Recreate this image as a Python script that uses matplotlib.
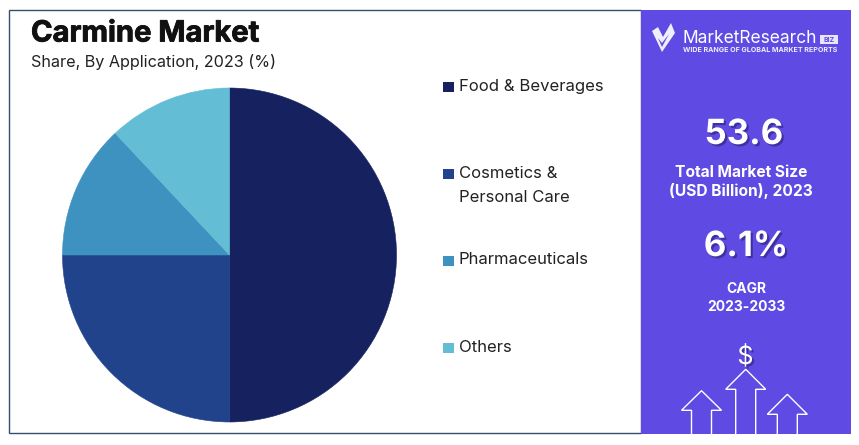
import matplotlib
matplotlib.use('Agg')
import matplotlib.pyplot as plt
import matplotlib.patheffects as pe
from matplotlib.patches import Rectangle, Polygon

# data
categories = ['Food & Beverages', 'Cosmetics &\nPersonal Care', 'Pharmaceuticals', 'Others']
shares = [50, 25, 13, 12]
colors = ['#16215f', '#21438b', '#3d92c0', '#62bdd5']
legend_y = [86, 173, 260, 347]

title = 'Carmine Market'
subtitle = 'Share, By Application, 2023 (%)'
market_size = '53.6'
market_label = 'Total Market Size\n(USD Billion), 2023'
cagr = '6.1%'
cagr_label = 'CAGR\n2023-2033'

W, H = 859, 445
PANEL = '#5f4ae3'
FONT = 'Inter'

plt.rcParams['font.family'] = [FONT, 'DejaVu Sans']

fig = plt.figure(figsize=(W / 100, H / 100), dpi=100)

# background axes in pixel coordinates, y going down
bg = fig.add_axes([0, 0, 1, 1])
bg.set_xlim(0, W)
bg.set_ylim(H, 0)
bg.axis('off')

bg.add_patch(Rectangle((8.5, 9.5), 632, 423.5, fc='white', ec='#34506e', lw=1))
bg.add_patch(Rectangle((641, 10), 210, 423.5, fc=PANEL, ec='none'))

# pie
cx, cy, r = 229.5, 255, 167
ax = fig.add_axes([(cx - r) / W, 1 - (cy + r) / H, 2 * r / W, 2 * r / H])
wedges, _ = ax.pie(shares, colors=colors, startangle=90, counterclock=False, radius=1)
# close the thin seams between slices
for w, col in zip(wedges, colors):
    w.set_edgecolor(col)
    w.set_linewidth(0.4)
ax.set_xlim(-1, 1)
ax.set_ylim(-1, 1)

# top layer for text
top = fig.add_axes([0, 0, 1, 1])
top.set_xlim(0, W)
top.set_ylim(H, 0)
top.axis('off')
top.patch.set_alpha(0)

top.text(31, 34, title, fontsize=21, fontweight='bold', color='#111111', va='center', ha='left',
         path_effects=[pe.withStroke(linewidth=0.6, foreground='#111111')])
top.text(31, 62, subtitle, fontsize=11.65, color='#222222', va='center', ha='left')

# legend
for name, col, y in zip(categories, colors, legend_y):
    top.add_patch(Rectangle((443, y - 4.5), 11, 10, fc=col, ec='none'))
    if '\n' in name:
        first, second = name.split('\n')
        top.text(459, y, first, fontsize=12, color='#222222', va='center')
        top.text(459, y + 24, second, fontsize=12, color='#222222', va='center')
    else:
        top.text(459, y, name, fontsize=12, color='#222222', va='center')

# logo
top.add_patch(Polygon([(652, 31), (658, 27), (663, 37), (671, 23), (675, 33), (662, 52)], fc='#f1eefc', ec='none'))
top.add_patch(Polygon([(658, 38), (662, 43), (669, 34), (662, 47)], fc=PANEL, ec='none'))
top.text(683, 38.5, 'MarketResearch', fontsize=12.5, color='white', va='center', ha='left')
top.add_patch(Rectangle((820, 35), 18, 9, fc='#e8e5fb', ec='none'))
top.text(829, 39.7, 'BIZ', fontsize=5, fontweight='bold', color=PANEL, va='center', ha='center')
top.text(683, 50.5, 'WIDE RANGE OF GLOBAL MARKET REPORTS', fontsize=5.1, fontweight='bold', color='#f1eefc', va='center', ha='left')

# right panel numbers
shadow = [pe.withSimplePatchShadow(offset=(1.5, -1.5), shadow_rgbFace='#2a2070', alpha=0.6)]
top.text(744, 135, market_size, fontsize=25, fontweight='bold', color='white', ha='center', va='center', path_effects=shadow)
top.text(741, 182, market_label, fontsize=11.2, fontweight='bold', color='white', ha='center', va='center', linespacing=1.25)
top.text(746, 247, cagr, fontsize=25, fontweight='bold', color='white', ha='center', va='center', path_effects=shadow)
top.text(746, 298, cagr_label, fontsize=10, fontweight='bold', color='white', ha='center', va='center', linespacing=1.3)
top.text(745.5, 357, '$', fontsize=18, color='white', ha='center', va='center', path_effects=shadow)

# outline arrows at the bottom of the panel
for tip_x, tip_y, half_w, half_s, wing_y in [(701.5, 390.7, 20, 10, 410.3),
                                             (745.7, 369.3, 20, 10, 389.3),
                                             (787.3, 394.3, 20, 10, 414.3)]:
    xs = [tip_x - half_s, tip_x - half_s, tip_x - half_w, tip_x, tip_x + half_w, tip_x + half_s, tip_x + half_s]
    ys = [433.5, wing_y, wing_y, tip_y, wing_y, wing_y, 433.5]
    top.plot(xs, ys, color='white', lw=1, solid_joinstyle='miter')

fig.savefig('out.png', dpi=100)
